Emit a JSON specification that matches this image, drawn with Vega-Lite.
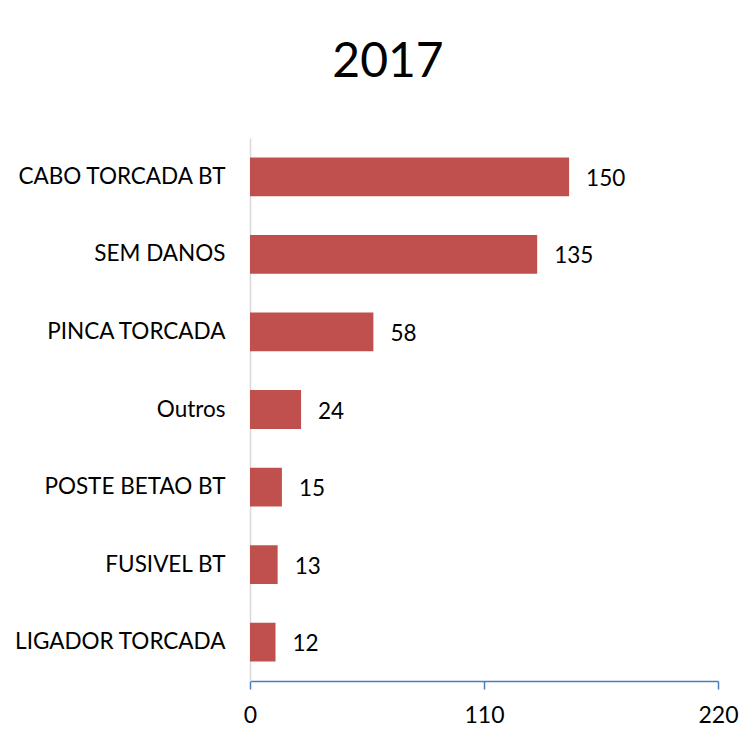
{
  "$schema": "https://vega.github.io/schema/vega-lite/v6.json",
  "autosize": "none",
  "width": 468,
  "height": 543,
  "padding": {"left": 250, "top": 138, "right": 35, "bottom": 50},
  "background": "white",
  "title": {"text": "2017", "fontSize": 48, "font": "Lato", "fontWeight": "normal", "color": "#000000", "frame": "bounds", "anchor": "middle", "offset": 51, "dx": 12},
  "data": {"values": [
    {"cat": "CABO TORCADA BT", "v": 150},
    {"cat": "SEM DANOS", "v": 135},
    {"cat": "PINCA TORCADA", "v": 58},
    {"cat": "Outros", "v": 24},
    {"cat": "POSTE BETAO BT", "v": 15},
    {"cat": "FUSIVEL BT", "v": 13},
    {"cat": "LIGADOR TORCADA", "v": 12}
  ]},
  "config": {"view": {"stroke": null}, "font": "Lato"},
  "encoding": {
    "y": {"field": "cat", "type": "nominal", "sort": null, "title": null,
      "scale": {"paddingInner": 0.5, "paddingOuter": 0.25},
      "axis": {"domainColor": "#d9d9d9", "domainWidth": 1.5, "ticks": false, "labelFontSize": 22.5, "labelColor": "#000000", "labelPadding": 25, "labelFont": "Lato", "labelLimit": 0, "grid": false}},
    "x": {"field": "v", "type": "quantitative", "title": null,
      "scale": {"domain": [0, 220], "nice": false},
      "axis": {"values": [0, 110, 220], "grid": false, "domainColor": "#4a7ebf", "domainWidth": 1.5, "tickColor": "#4a7ebf", "tickWidth": 1.5, "tickSize": 8, "labelFontSize": 23, "labelColor": "#000000", "labelPadding": 15, "labelFont": "Lato", "labelFlush": false}}
  },
  "layer": [
    {"mark": {"type": "bar", "color": "#C0504D"}},
    {"mark": {"type": "text", "align": "left", "dx": 17, "dy": 2, "fontSize": 22.5, "font": "Lato", "color": "#000000"}, "encoding": {"text": {"field": "v", "type": "quantitative"}}}
  ]
}
